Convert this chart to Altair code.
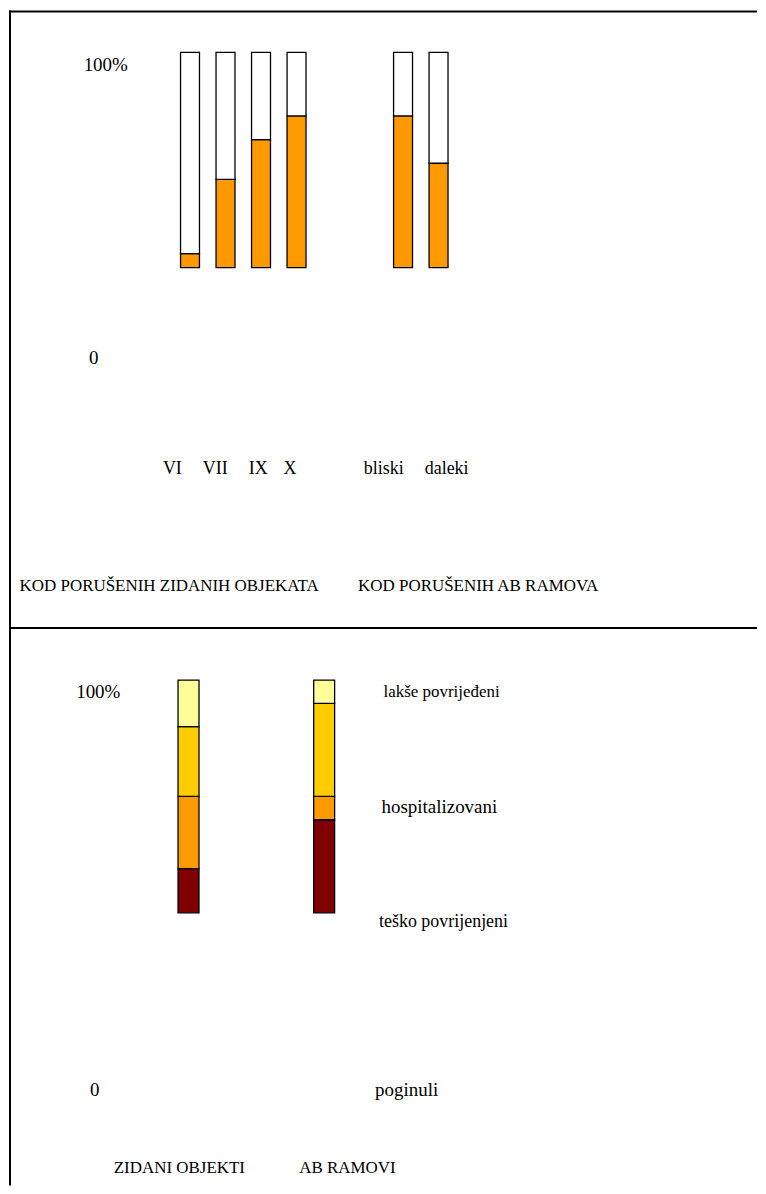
import altair as alt
import pandas as pd

# ---------------- data ----------------
kategorije_zid = ["VI", "VII", "IX", "X"]
kategorije_ab = ["bliski", "daleki"]
udio_zid = [6.5, 41.0, 59.5, 70.5]      # % porušenih (narandžasto)
udio_ab = [70.5, 48.5]
grupe_gore = ["KOD PORUŠENIH ZIDANIH OBJEKATA", "KOD PORUŠENIH AB RAMOVA"]

objekti = ["ZIDANI OBJEKTI", "AB RAMOVI"]
posljedice = ["poginuli", "teško povrijenjeni", "hospitalizovani", "lakše povrijeđeni"]
udio_zidani = [19, 31, 30, 20]
udio_abr = [40, 10, 40, 10]
oznake_ose = ["100%", "0"]

# ---------------- layout / style ----------------
FONT = "Liberation Serif"
W = 750
H1, H2 = 619, 559
boje_posljedica = ["#800000", "#FF9900", "#FFCC00", "#FFFF99"]
pomak_oznaka = [-17.7, -10.3, -2.9, -6.5, -19.3, 8.1]   # horizontal label offsets (px)


def tekst(label, x, y, size, align="left"):
    return alt.Chart(pd.DataFrame({"t": [label]})).mark_text(
        font=FONT, fontSize=size, align=align, baseline="middle", color="black"
    ).encode(text="t:N", x=alt.value(x), y=alt.value(y))


def okvir(h, top=True):
    one = pd.DataFrame({"a": [0]})
    return [
        alt.Chart(one).mark_rule(color="black", strokeWidth=2).encode(
            x=alt.value(1), y=alt.value(0), y2=alt.value(h)
        ),
        alt.Chart(one).mark_rule(color="black", strokeWidth=2).encode(
            x=alt.value(0), x2=alt.value(W), y=alt.value(1 if top else 0)
        ),
    ]


# ---------------- panel 1 ----------------
rows = []
for kat, v in zip(kategorije_zid + kategorije_ab, udio_zid + udio_ab):
    rows.append({"kategorija": kat, "segment": "porušeni", "udio": v, "red": 0})
    rows.append({"kategorija": kat, "segment": "ostali", "udio": 100 - v, "red": 1})
df1 = pd.DataFrame(rows)

domena1 = kategorije_zid + [" ", "  "] + kategorije_ab
xs1 = alt.Scale(domain=domena1, range=[163.7, 448.5], paddingInner=0, paddingOuter=0)

bars1 = alt.Chart(df1).mark_bar(width=19, stroke="black", strokeWidth=1.3).encode(
    x=alt.X("kategorija:N", scale=xs1, axis=None),
    y=alt.Y("udio:Q", stack="zero", scale=alt.Scale(domain=[0, 100], range=[257.7, 42]), axis=None),
    color=alt.Color("segment:N", scale=alt.Scale(domain=["porušeni", "ostali"], range=["#FF9900", "#FFFFFF"]), legend=None),
    order=alt.Order("red:Q"),
)

tick_layers = []
for kat, dx in zip(kategorije_zid + kategorije_ab, pomak_oznaka):
    tick_layers.append(
        alt.Chart(pd.DataFrame({"kategorija": [kat]})).mark_text(
            font=FONT, fontSize=18, align="center", baseline="middle", dx=dx, color="black"
        ).encode(x=alt.X("kategorija:N", scale=xs1, axis=None), y=alt.value(460), text="kategorija:N")
    )

panel1 = alt.layer(
    *okvir(H1, top=True),
    bars1,
    *tick_layers,
    tekst(oznake_ose[0], 97, 55, 19, "center"),
    tekst(oznake_ose[1], 85, 348, 19, "center"),
    tekst(grupe_gore[0], 10.6, 577, 17),
    tekst(grupe_gore[1], 350, 577, 17),
).properties(width=W, height=H1)

# ---------------- panel 2 ----------------
rows = []
for obj, vals in zip(objekti, [udio_zidani, udio_abr]):
    for i, (p, v) in enumerate(zip(posljedice, vals)):
        rows.append({"objekat": obj, "posljedica": p, "udio": v, "red": i})
df2 = pd.DataFrame(rows)

xs2 = alt.Scale(domain=objekti, range=[112, 384], paddingInner=0, paddingOuter=0)
bars2 = alt.Chart(df2).mark_bar(width=21, stroke="black", strokeWidth=1.3).encode(
    x=alt.X("objekat:N", scale=xs2, axis=None),
    y=alt.Y("udio:Q", stack="zero", scale=alt.Scale(domain=[0, 100], range=[285.7, 52.3]), axis=None),
    color=alt.Color("posljedica:N", scale=alt.Scale(domain=posljedice, range=boje_posljedica), legend=None),
    order=alt.Order("red:Q"),
)

panel2 = alt.layer(
    *okvir(H2, top=False),
    bars2,
    tekst(oznake_ose[0], 89.5, 64.7, 19, "center"),
    tekst(oznake_ose[1], 86, 463, 19, "center"),
    tekst(posljedice[3], 375.5, 64.7, 17),
    tekst(posljedice[2], 373.5, 179.7, 19),
    tekst(posljedice[1], 371, 294.7, 18),
    tekst(posljedice[0], 367, 463, 19),
    tekst(objekti[0], 105, 542, 17),
    tekst(objekti[1], 291, 542, 17),
).properties(width=W, height=H2)

chart = alt.vconcat(panel1, panel2, spacing=0, bounds="flush").resolve_scale(
    color="independent", x="independent", y="independent"
).properties(padding=0).configure_view(stroke=None)

chart.save("out.html", embed_options={"renderer": "svg", "actions": False})
